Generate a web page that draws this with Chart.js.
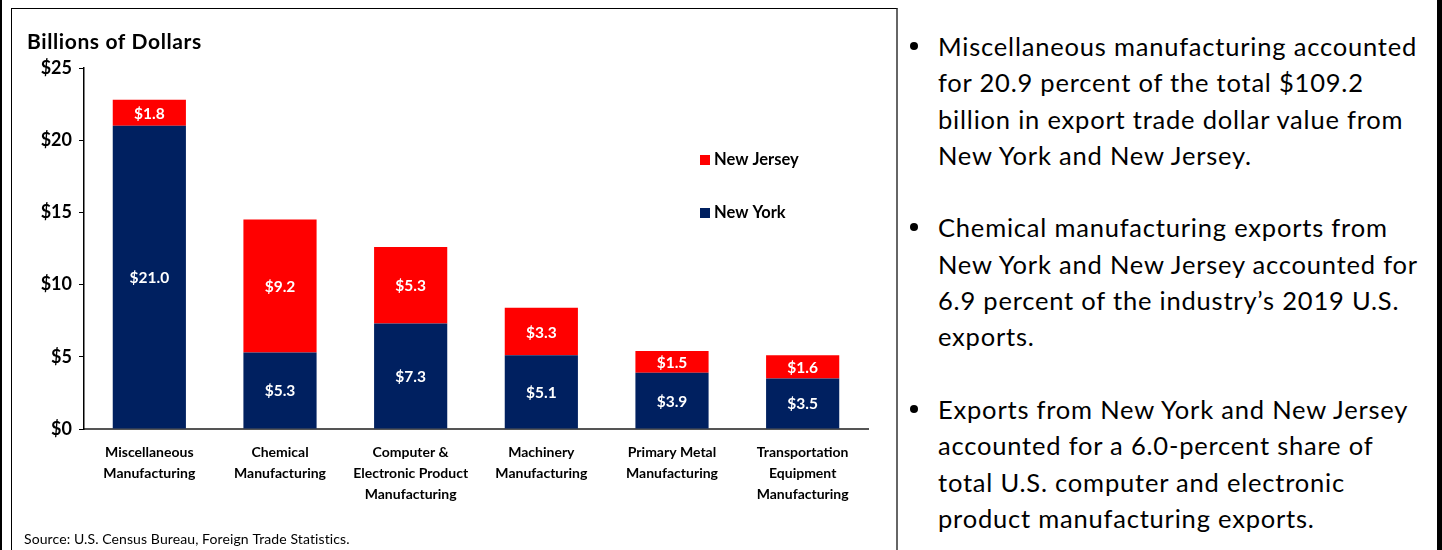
<!DOCTYPE html>
<html>
<head>
<meta charset="utf-8">
<script src="https://cdn.jsdelivr.net/npm/chart.js@4/dist/chart.umd.min.js"></script>
<style>
  html, body { margin: 0; padding: 0; background: #fff; }
  body { width: 1442px; height: 550px; position: relative; overflow: hidden; font-family: Lato, "Noto Sans", sans-serif; }
  .edge-left { position: absolute; left: 0; top: 0; width: 2px; height: 550px; background: #000; }
  .edge-right { position: absolute; left: 1437px; top: 0; width: 5px; height: 550px; background: #000; }
  .panel { position: absolute; left: 11px; top: 8px; width: 887px; height: 542px;
           border-left: 1px solid #000; border-top: 1px solid #000; border-right: 2px solid #666; box-sizing: border-box; }
  .chart-box { position: absolute; left: 12px; top: 9px; width: 886px; height: 541px; }
  .notes { position: absolute; left: 905px; top: 28px; width: 530px; margin: 0; padding: 0; list-style: none;
           font-family: Lato, "Noto Sans", sans-serif; font-size: 25.5px; letter-spacing: 0.8px; line-height: 36.3px; color: #000; }
  .notes li { position: relative; padding-left: 33px; margin-bottom: 36.3px; white-space: nowrap; }
  .notes li::before { content: ""; position: absolute; left: 5px; top: 14px; width: 8px; height: 8px; border-radius: 50%; background: #000; }
</style>
</head>
<body>
<div class="edge-left"></div>
<div class="edge-right"></div>
<div class="panel"></div>
<div class="chart-box"><canvas id="chart"></canvas></div>
<ul class="notes">
  <li>Miscellaneous manufacturing accounted<br>for 20.9 percent of the total $109.2<br>billion in export trade dollar value from<br>New York and New Jersey.</li>
  <li>Chemical manufacturing exports from<br>New York and New Jersey accounted for<br>6.9 percent of the industry’s 2019 U.S.<br>exports.</li>
  <li>Exports from New York and New Jersey<br>accounted for a 6.0-percent share of<br>total U.S. computer and electronic<br>product manufacturing exports.</li>
</ul>
<script>
// Export value by industry, billions of dollars
const categories = [
  ['Miscellaneous', 'Manufacturing'],
  ['Chemical', 'Manufacturing'],
  ['Computer &', 'Electronic Product', 'Manufacturing'],
  ['Machinery', 'Manufacturing'],
  ['Primary Metal', 'Manufacturing'],
  ['Transportation', 'Equipment', 'Manufacturing']
];
const newYork = [21.0, 5.3, 7.3, 5.1, 3.9, 3.5];
const newJersey = [1.8, 9.2, 5.3, 3.3, 1.5, 1.6];
const yTicks = [0, 5, 10, 15, 20, 25];

const NAVY = '#002060';
const RED = '#FF0000';
const FONT = 'Lato, "Noto Sans", sans-serif';

// White value labels centred in each stacked segment
const segmentLabels = {
  id: 'segmentLabels',
  afterDatasetsDraw(chart) {
    const ctx = chart.ctx;
    ctx.save();
    ctx.fillStyle = '#fff';
    ctx.font = 'bold 15.5px ' + FONT;
    ctx.textAlign = 'center';
    ctx.textBaseline = 'middle';
    chart.data.datasets.forEach((ds, di) => {
      const meta = chart.getDatasetMeta(di);
      meta.data.forEach((el, i) => {
        const p = el.getProps(['x', 'y', 'base'], true);
        ctx.fillText('$' + ds.data[i].toFixed(1), p.x, (p.y + p.base) / 2 + 1);
      });
    });
    ctx.restore();
  }
};

// Axis caption, legend and source note
const decorations = {
  id: 'decorations',
  afterDraw(chart) {
    const ctx = chart.ctx;
    ctx.save();
    ctx.fillStyle = '#000';
    ctx.textBaseline = 'middle';
    ctx.textAlign = 'left';
    ctx.font = 'bold 21px ' + FONT;
    ctx.letterSpacing = '0.6px';
    ctx.fillText('Billions of Dollars', 15, 33);

    const items = [
      { label: chart.data.datasets[1].label, color: chart.data.datasets[1].backgroundColor, y: 151 },
      { label: chart.data.datasets[0].label, color: chart.data.datasets[0].backgroundColor, y: 204 }
    ];
    ctx.font = 'bold 16.5px ' + FONT;
    ctx.letterSpacing = '0px';
    items.forEach(it => {
      ctx.fillStyle = it.color;
      ctx.fillRect(688, it.y - 5, 10, 10);
      ctx.fillStyle = '#000';
      ctx.fillText(it.label, 702, it.y);
    });

    ctx.font = '14px ' + FONT;
    ctx.letterSpacing = '0.1px';
    ctx.fillText('Source: U.S. Census Bureau, Foreign Trade Statistics.', 12, 530);
    ctx.restore();
  }
};

new Chart(document.getElementById('chart'), {
  type: 'bar',
  data: {
    labels: categories,
    datasets: [
      { label: 'New York', data: newYork, backgroundColor: NAVY },
      { label: 'New Jersey', data: newJersey, backgroundColor: RED }
    ]
  },
  options: {
    responsive: true,
    maintainAspectRatio: false,
    animation: false,
    events: [],
    layout: { padding: { top: 59, right: 30, left: 0, bottom: 0 } },
    datasets: { bar: { categoryPercentage: 1.0, barPercentage: 0.56 } },
    plugins: { legend: { display: false }, title: { display: false }, tooltip: { enabled: false } },
    scales: {
      x: {
        stacked: true,
        grid: { display: false },
        border: { display: true, color: '#555', width: 2 },
        ticks: { color: '#000', font: { family: FONT, size: 14, weight: 'bold', lineHeight: 1.5 }, padding: 5, maxRotation: 0, autoSkip: false },
        afterFit(scale) { scale.height = 121; }
      },
      y: {
        stacked: true,
        min: 0,
        max: 25,
        afterBuildTicks(scale) { scale.ticks = yTicks.map(v => ({ value: v })); },
        grid: { drawOnChartArea: false, drawTicks: true, tickLength: 5, color: '#000', lineWidth: 1 },
        border: { display: true, color: '#000', width: 1.5 },
        ticks: { color: '#000', font: { family: FONT, size: 18, weight: 'bold' }, padding: 7, callback: v => '$' + v },
        afterFit(scale) { scale.width = 72; }
      }
    }
  },
  plugins: [segmentLabels, decorations]
});
</script>
</body>
</html>
